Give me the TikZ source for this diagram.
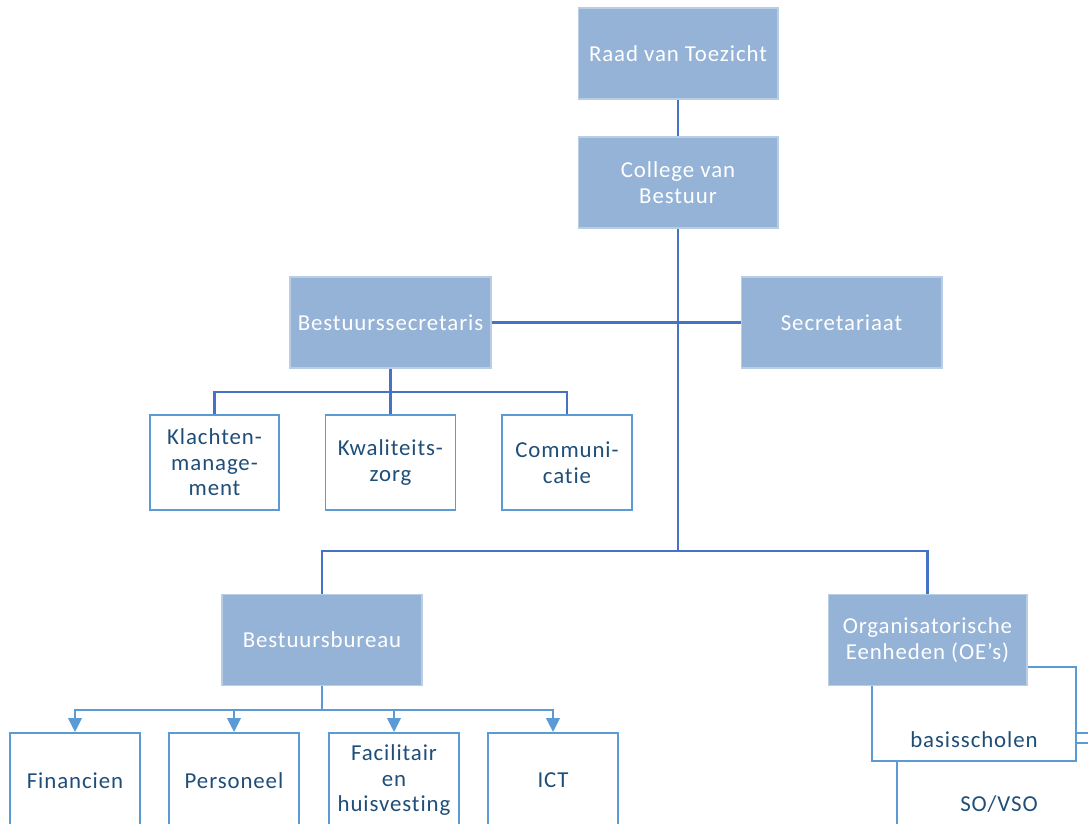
\documentclass[tikz,border=0pt]{standalone}
\usepackage{fontspec}
\setmainfont{Carlito}[LetterSpace=4, Ligatures=NoCommon]
\usepackage{tikz}
\usetikzlibrary{arrows.meta}
\pgfdeclarelayer{bg}
\pgfsetlayers{bg,main}

\definecolor{boxfill}{HTML}{95B3D7}
\definecolor{boxrim}{HTML}{B9CDE5}
\definecolor{linedark}{HTML}{4472C4}
\definecolor{linelight}{HTML}{5B9BD5}
\definecolor{textdark}{HTML}{1F4E79}

\tikzset{
  headbox/.style={fill=boxfill, draw=boxrim, line width=0.6pt, text=white,
    minimum width=4cm, minimum height=1.82cm, align=center, inner sep=2pt,
    font=\fontsize{13}{14.5}\selectfont},
  subbox/.style={fill=white, draw=linelight, line width=1.1pt, text=textdark,
    minimum width=2.6cm, minimum height=1.9cm, align=center, inner sep=2pt,
    font=\fontsize{13}{14.5}\selectfont},
  link/.style={draw=linedark, line width=1.2pt},
  arr/.style={draw=linelight, line width=1.2pt,
    -{Triangle[width=0.27cm,length=0.28cm]}},
}

\begin{document}
\begin{tikzpicture}[x=0.02cm, y=-0.02cm]
        \useasboundingbox (0,0) rectangle (1088,824);
        \node (rvt) [headbox] at (678, 53.5) {Raad van Toezicht};
        \node (cvb) [headbox] at (678, 182.5) {College van\\Bestuur};
        \node (bs) [headbox, minimum width=4.02cm] at (390.5, 322.5) {Bestuurssecretaris};
        \node (sec) [headbox, minimum width=4.02cm] at (841.5, 322.5) {Secretariaat};
        \node (kl) [subbox, minimum width=2.58cm] at (214.5, 462.5) {Klachten-\\manage-\\ment};
        \node (kw) [subbox] at (390.5, 462.5) {Kwaliteits-\\zorg};
        \node (com) [subbox] at (567, 462.5) {Communi-\\catie};
        \node (bb) [headbox] at (322, 640) {Bestuursbureau};
        \node (fin) [subbox] at (75, 780.5) {Financien};
        \node (per) [subbox] at (234, 780.5) {Personeel};
        \node (fac) [subbox] at (394, 780.5) {Facilitair\\en\\huisvesting};
        \node (ict) [subbox] at (553, 780.5) {ICT};
        \node (sov) [subbox, minimum width=4.08cm, minimum height=1.88cm,
          label={[text=textdark, font=\fontsize{13}{14.5}\selectfont, anchor=base, yshift=0.52cm]south:SO/VSO}] at (999, 790) {};
        \node (bsc) [subbox, minimum width=4.08cm, minimum height=1.88cm,
          label={[text=textdark, font=\fontsize{13}{14.5}\selectfont, anchor=base, yshift=0.28cm]south:basisscholen}] at (974, 714) {};
        \node (oe) [headbox, minimum width=3.98cm] at (927.5, 640) {Organisatorische\\Eenheden (OE’s)};
        \coordinate (j1) at (678, 551);
        \coordinate (j2) at (390.5, 392);
        \coordinate (j3) at (322, 710);
        \coordinate (out) at (1088, 733);
        \begin{pgfonlayer}{bg}
                \draw [link] (rvt) -- (cvb);
                \draw [link] (cvb) -- (j1);
                \draw [link] (bs) -- (sec);
                \draw [link] (bs) -- (j2);
                \draw [link] (kl) |- (j2) -| (com);
                \draw [link] (j2) -- (kw);
                \draw [link] (bb) |- (j1) -| (oe);
                \draw [link, draw=linelight] (bb) -- (j3);
                \draw [arr] (j3) -| (fin);
                \draw [arr] (j3) -| (per);
                \draw [arr] (j3) -| (fac);
                \draw [arr] (j3) -| (ict);
                \draw [link, draw=linelight] (bsc.east |- out) -- (out);
        \end{pgfonlayer}
\end{tikzpicture}
\end{document}
